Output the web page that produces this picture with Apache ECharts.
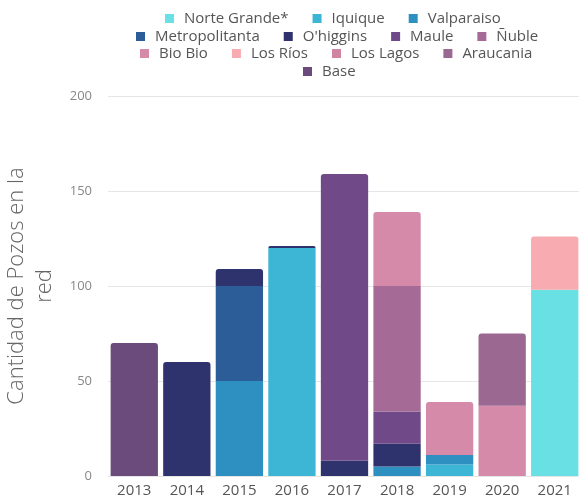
<!DOCTYPE html>
<html>
<head>
<meta charset="utf-8">
<script src="https://cdn.jsdelivr.net/npm/echarts@6/dist/echarts.min.js"></script>
<style>
  html, body { margin: 0; padding: 0; background: #fff; }
  #chart { width: 579px; height: 502px; }
</style>
</head>
<body>
<div id="chart"></div>
<script>
// Wells added to the monitoring network per year, by region
const years = ['2013', '2014', '2015', '2016', '2017', '2018', '2019', '2020', '2021'];

const norteGrande    = [0, 0, 0, 0, 0, 0, 0, 0, 98];
const iquique        = [0, 0, 0, 120, 0, 0, 6, 0, 0];
const valparaiso     = [0, 0, 50, 0, 0, 5, 5, 0, 0];
const metropolitanta = [0, 0, 50, 0, 0, 0, 0, 0, 0];
const ohiggins       = [0, 60, 9, 1, 8, 12, 0, 0, 0];
const maule          = [0, 0, 0, 0, 151, 17, 0, 0, 0];
const nuble          = [0, 0, 0, 0, 0, 66, 0, 0, 0];
const bioBio         = [0, 0, 0, 0, 0, 39, 28, 37, 0];
const losRios        = [0, 0, 0, 0, 0, 0, 0, 0, 28];
const losLagos       = [0, 0, 0, 0, 0, 0, 0, 0, 0];
const araucania      = [0, 0, 0, 0, 0, 0, 0, 38, 0];
const base           = [70, 0, 0, 0, 0, 0, 0, 0, 0];

const yTicks = [0, 50, 100, 150, 200];

const seriesDefs = [
  { name: 'Norte Grande*',  data: norteGrande,    color: '#68e0e4' },
  { name: 'Iquique',        data: iquique,        color: '#3db6d6' },
  { name: 'Valparaiso',     data: valparaiso,     color: '#2e90c1' },
  { name: 'Metropolitanta', data: metropolitanta, color: '#2c5d99' },
  { name: "O'higgins",      data: ohiggins,       color: '#2e326d' },
  { name: 'Maule',          data: maule,          color: '#704a88' },
  { name: 'Ñuble',          data: nuble,          color: '#a66a97' },
  { name: 'Bio Bio',        data: bioBio,         color: '#d48aa8' },
  { name: 'Los Ríos',       data: losRios,        color: '#f8abb1' },
  { name: 'Los Lagos',      data: losLagos,       color: '#cf85a2' },
  { name: 'Araucania',      data: araucania,      color: '#9b6892' },
  { name: 'Base',           data: base,           color: '#6b4b7b' }
];

// index of the uppermost non-empty segment in each year's stack
const topIndex = years.map((_, i) => {
  let t = -1;
  seriesDefs.forEach((s, k) => { if (s.data[i] > 0) t = k; });
  return t;
});

const series = seriesDefs.map((s, k) => ({
  name: s.name,
  type: 'bar',
  stack: 'total',
  barCategoryGap: '10%',
  itemStyle: { color: s.color },
  emphasis: { disabled: true },
  data: s.data.map((v, i) => ({
    value: v,
    itemStyle: { borderRadius: topIndex[i] === k ? [3, 3, 0, 0] : 0 }
  }))
}));

const legendRows = [
  { names: ['Norte Grande*', 'Iquique', 'Valparaiso'], left: 165, top: 11 },
  { names: ['Metropolitanta', "O'higgins", 'Maule', 'Ñuble'], left: 136, top: 29 },
  { names: ['Bio Bio', 'Los Ríos', 'Los Lagos', 'Araucania'], left: 140, top: 46 },
  { names: ['Base'], left: 303, top: 64 }
];

const legends = legendRows.map(r => ({
  data: r.names,
  left: r.left,
  top: r.top,
  padding: 0,
  orient: 'horizontal',
  itemWidth: 9,
  itemHeight: 9,
  itemGap: 24,
  icon: 'rect',
  selectedMode: false,
  textStyle: {
    fontFamily: 'Open Sans',
    fontSize: 15,
    color: '#555',
    padding: [0, 0, 0, 5]
  }
}));

const chart = echarts.init(document.getElementById('chart'), null, { renderer: 'canvas' });
chart.setOption({
  animation: false,
  backgroundColor: '#fff',
  legend: legends,
  grid: { left: 108, right: -2, top: 96, bottom: 26, containLabel: false, outerBoundsMode: 'none' },
  xAxis: {
    type: 'category',
    data: years,
    axisLine: { show: false },
    axisTick: { show: false },
    axisLabel: { fontFamily: 'Open Sans', fontSize: 15, color: '#555', margin: 7 }
  },
  yAxis: {
    type: 'value',
    min: yTicks[0],
    max: yTicks[yTicks.length - 1],
    interval: yTicks[1] - yTicks[0],
    name: 'Cantidad de Pozos en la\nred',
    nameLocation: 'middle',
    nameGap: 38,
    nameTextStyle: { fontFamily: 'Open Sans', fontSize: 22, fontWeight: 300, color: '#666', lineHeight: 28 },
    axisLine: { show: false },
    axisTick: { show: false },
    axisLabel: { fontFamily: 'Open Sans', fontSize: 13, color: '#888', margin: 16 },
    splitLine: { lineStyle: { color: '#e6e6e6', width: 1 } }
  },
  series: series
});
</script>
</body>
</html>
